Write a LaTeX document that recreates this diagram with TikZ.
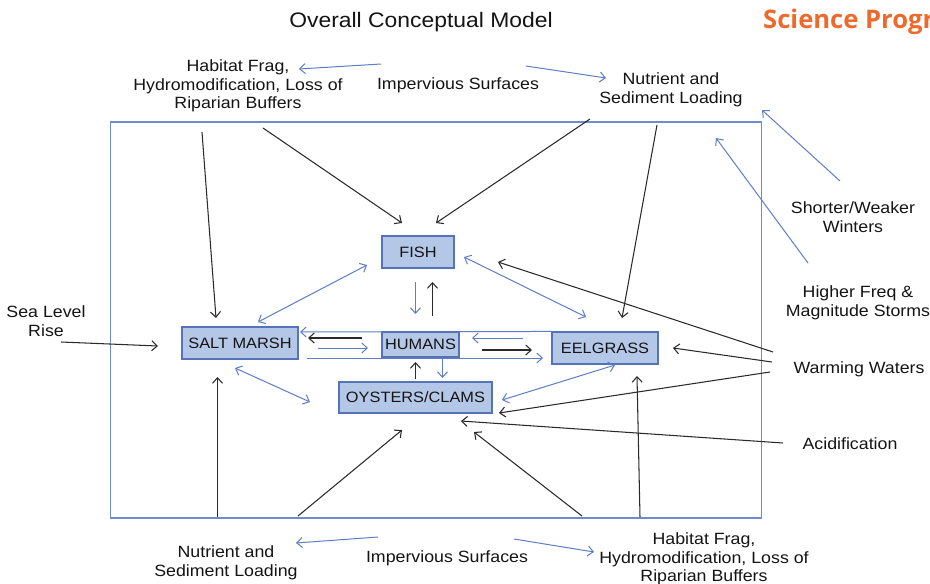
\documentclass[tikz,border=0pt]{standalone}
\usepackage{fontspec}
\setmainfont{Liberation Sans}[FakeStretch=1.09]
\newfontfamily\orangefont{Open Sans}
\usetikzlibrary{arrows.meta}
\definecolor{boxfill}{HTML}{B4C7E7}
\definecolor{boxline}{HTML}{5473B8}
\definecolor{bluearr}{HTML}{5E7DC6}
\definecolor{frameblue}{HTML}{6F8BCB}
\definecolor{sciorange}{HTML}{EE6A2C}
\definecolor{blk}{HTML}{2A2A2A}
\definecolor{txt}{HTML}{141414}
\tikzset{
  tip/.tip={Straight Barb[length=5.5pt,width=10pt]},
  box/.style={draw=boxline, fill=boxfill, line width=1.1pt, inner sep=0pt, text=txt,
    font=\fontsize{15}{16}\selectfont},
  lbl/.style={align=center, inner sep=0pt, text=txt, font=\fontsize{16.3}{18.5}\selectfont},
  barr/.style={draw=bluearr, line width=1pt, -tip},
  bdarr/.style={draw=bluearr, line width=1pt, tip-tip},
  karr/.style={draw=blk, line width=1.05pt, -tip},
}
\begin{document}
\begin{tikzpicture}[x=1pt,y=-1pt]
\useasboundingbox (0,0) rectangle (930,584);
\fill[white] (0,0) rectangle (930,584);

% title and header
\node[inner sep=0pt, text=txt, font=\fontsize{21}{24}\selectfont] (title) at (421,22) {Overall Conceptual Model};
\node[anchor=base west, inner sep=0pt, text=sciorange, font=\orangefont\bfseries\fontsize{25.6}{29}\selectfont] (sci) at (763,28.5) {Science Progr};

% frame
\draw[frameblue, line width=1.2pt] (110.5,122) rectangle (761.5,518);

% outer labels
\node[lbl] (topHab) at (238,86) {Habitat Frag,\\Hydromodification, Loss of\\Riparian Buffers};
\node[lbl] (topImp) at (458,85) {Impervious Surfaces};
\node[lbl] (topNut) at (671,90) {Nutrient and\\Sediment Loading};
\node[lbl] (winters) at (853,217) {Shorter/Weaker\\Winters};
\node[lbl] (storms) at (858,303) {Higher Freq \&\\Magnitude Storms};
\node[lbl] (warm) at (859,369) {Warming Waters};
\node[lbl] (acid) at (850,444) {Acidification};
\node[lbl] (sea) at (46,321) {Sea Level\\Rise};
\node[lbl] (botNut) at (226,563) {Nutrient and\\Sediment Loading};
\node[lbl] (botImp) at (447,558) {Impervious Surfaces};
\node[lbl] (botHab) at (704,559) {Habitat Frag,\\Hydromodification, Loss of\\Riparian Buffers};

% band arrows behind HUMANS
\node[box, minimum width=116pt, minimum height=32pt] (salt) at (240,343) {SALT MARSH};
\node[box, minimum width=106pt, minimum height=32pt] (eel) at (605,348) {EELGRASS};
\draw[barr] (eel.north west) -- ([shift={(60,-11)}]salt.center);
\draw[barr] ([shift={(67,15)}]salt.center) -- ([shift={(-62,10)}]eel.center);

% boxes
\node[box, minimum width=72pt, minimum height=32pt] (fish) at (418,252) {FISH};
\node[box, minimum width=77pt, minimum height=25pt] (hum) at (420.5,344.5) {HUMANS};
\node[box, minimum width=153pt, minimum height=31pt] (oys) at (415.5,397.5) {OYSTERS/CLAMS};

% blue arrows between outer labels
\draw[barr] ([shift={(-77,-21)}]topImp.center) -- ([shift={(61,-17)}]topHab.center);
\draw[barr] ([shift={(68,-19)}]topImp.center) -- ([shift={(-65,-12)}]topNut.center);
\draw[barr] ([shift={(-13,-36)}]winters.center) -- ([shift={(91,20)}]topNut.center);
\draw[barr] ([shift={(-50,-40)}]storms.center) -- ([shift={(45,48)}]topNut.center);
\draw[barr] ([shift={(-69,-21)}]botImp.center) -- ([shift={(70,-20)}]botNut.center);
\draw[barr] ([shift={(67,-19)}]botImp.center) -- ([shift={(-110,-7)}]botHab.center);

% black driver arrows
\draw[karr] ([shift={(-36,46)}]topHab.center) -- ([shift={(-24,-25)}]salt.center);
\draw[karr] ([shift={(25,42)}]topHab.center) -- ([shift={(-16,-29)}]fish.center);
\draw[karr] ([shift={(-81,29)}]topNut.center) -- ([shift={(18,-29)}]fish.center);
\draw[karr] ([shift={(-14,35)}]topNut.center) -- ([shift={(17,-30)}]eel.center);
\draw[karr] ([shift={(-86,-17)}]warm.center) -- ([shift={(80,10)}]fish.center);
\draw[karr] ([shift={(-87,-7)}]warm.center) -- ([shift={(68,0)}]eel.center);
\draw[karr] ([shift={(-89,3)}]warm.center) -- ([shift={(83.5,15.5)}]oys.center);
\draw[karr] ([shift={(-67,-1)}]acid.center) -- ([shift={(45.5,23.5)}]oys.center);
\draw[karr] ([shift={(15,21)}]sea.center) -- ([shift={(-82,3)}]salt.center);
\draw[karr] ([shift={(-8.5,-46)}]botNut.center) -- ([shift={(-22.5,34)}]salt.center);
\draw[karr] ([shift={(72,-47)}]botNut.center) -- ([shift={(-13.5,32.5)}]oys.center);
\draw[karr] ([shift={(-122,-43)}]botHab.center) -- ([shift={(58.5,34.5)}]oys.center);
\draw[karr] ([shift={(-64,-42)}]botHab.center) -- ([shift={(32,28)}]eel.center);

% blue double arrows between habitats
\draw[bdarr] ([shift={(18,-21)}]salt.center) -- ([shift={(-51,13)}]fish.center);
\draw[bdarr] ([shift={(46,5)}]fish.center) -- ([shift={(-19,-31)}]eel.center);
\draw[bdarr] ([shift={(-5,25)}]salt.center) -- ([shift={(-105.5,4.5)}]oys.center);
\draw[bdarr] ([shift={(10,17)}]eel.center) -- ([shift={(86.5,2.5)}]oys.center);

% short arrows around HUMANS
\draw[karr] ([shift={(-58.5,-6.5)}]hum.center) -- ([shift={(68,-5)}]salt.center);
\draw[barr] ([shift={(78,5)}]salt.center) -- ([shift={(-52.5,3.5)}]hum.center);
\draw[barr] ([shift={(-82,-10)}]eel.center) -- ([shift={(51.5,-6.5)}]hum.center);
\draw[karr] ([shift={(61.5,5.5)}]hum.center) -- ([shift={(-73,2)}]eel.center);
\draw[barr] ([shift={(-2.5,30)}]fish.center) -- ([shift={(-5,-30.5)}]hum.center);
\draw[karr] ([shift={(12,-28.5)}]hum.center) -- ([shift={(14.5,30)}]fish.center);
\draw[karr] ([shift={(0,-18.5)}]oys.center) -- ([shift={(-5,17.5)}]hum.center);
\draw[barr] ([shift={(22,13.5)}]hum.center) -- ([shift={(27,-19.5)}]oys.center);
\end{tikzpicture}
\end{document}
